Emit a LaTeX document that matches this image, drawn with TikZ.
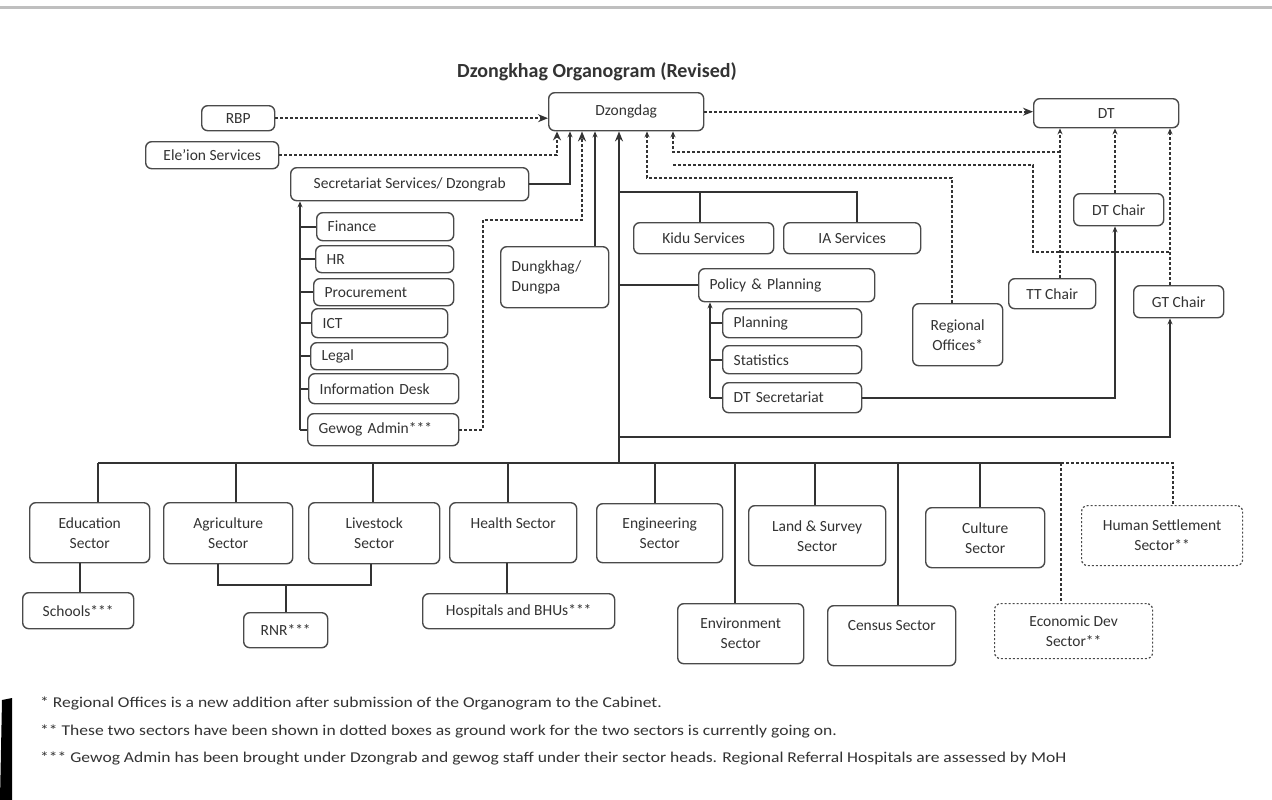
\documentclass[tikz,border=0pt]{standalone}
\usepackage{fontspec}
\setmainfont{Carlito}
\usetikzlibrary{arrows.meta}
\definecolor{ink}{HTML}{333333}
\definecolor{edgec}{HTML}{4a4a4a}
\newcommand{\wide}[1]{\scalebox{1.17}[1]{#1}}
\tikzset{
  box/.style={draw=edgec, line width=1.4pt, rounded corners=6pt, fill=white, text=ink,
    font=\fontsize{15.5}{20}\selectfont, inner sep=0pt, anchor=north west},
  cbox/.style={box, align=center},
  lbox/.style={box, align=left, inner xsep=11pt},
  dbox/.style={cbox, dash pattern=on 2pt off 2pt, line width=1.2pt},
  sl/.style={draw=ink, line width=1.6pt},
  dl/.style={draw=ink, line width=1.6pt, dash pattern=on 3pt off 2pt},
  arrbig/.style={-{Stealth[length=10pt,width=8pt]}},
  arrsm/.style={-{Stealth[length=6pt,width=5pt]}},
  arropen/.style={-{Stealth[open,length=9pt,width=8pt]}},
  foot/.style={anchor=west, text=ink, font=\fontsize{15}{18}\selectfont, inner sep=0pt}
}
\begin{document}
\begin{tikzpicture}[x=1pt, y=-1pt]
\useasboundingbox (0,0) rectangle (1272,800);
\fill[white] (0,0) rectangle (1272,800);
\draw[black!25, line width=3pt] (0,8) -- (1272,8);
\fill[black] (2,700) -- (12,698) -- (12,800) -- (0,800) -- cycle;

\node[text=ink, font=\bfseries\fontsize{20}{23}\selectfont] (title) at (597,72) {Dzongkhag Organogram (Revised)};

% top boxes
\node[cbox, minimum width=73pt, minimum height=25pt] (rbp) at (201,105) {RBP};
\node[cbox, minimum width=133pt, minimum height=27pt] (ele) at (145,141) {Ele'ion Services};
\node[cbox, minimum width=155pt, minimum height=38pt] (dz) at (548,92) {Dzongdag};
\node[cbox, minimum width=145pt, minimum height=29pt] (dt) at (1033,98) {DT};
\node[cbox, minimum width=238pt, minimum height=33pt] (sec) at (290,167) {Secretariat Services/ Dzongrab};
\node[lbox, text width=115pt, minimum height=28pt] (fin) at (316,212) {Finance};
\node[lbox, text width=116pt, minimum height=27pt] (hr) at (315,245) {HR};
\node[lbox, text width=118pt, minimum height=27pt] (proc) at (313,278) {Procurement};
\node[lbox, text width=114pt, minimum height=29pt] (ict) at (311,308) {ICT};
\node[lbox, text width=115pt, minimum height=27pt] (leg) at (310,342) {Legal};
\node[lbox, text width=128pt, minimum height=30pt] (info) at (308,373) {Information Desk};
\node[lbox, text width=129pt, minimum height=32pt] (gew) at (307,413) {Gewog Admin***};
\node[lbox, text width=86pt, minimum height=61pt] (dung) at (500,246) {Dungkhag/\\Dungpa};
\node[cbox, minimum width=140pt, minimum height=31pt] (kidu) at (633,222) {Kidu Services};
\node[cbox, minimum width=137pt, minimum height=31pt] (ia) at (783,222) {IA Services};
\node[lbox, text width=154pt, minimum height=33pt] (pp) at (698,268) {Policy \& Planning};
\node[lbox, text width=117pt, minimum height=29pt] (plan) at (722,308) {Planning};
\node[lbox, text width=117pt, minimum height=28pt] (stat) at (722,345) {Statistics};
\node[lbox, text width=117pt, minimum height=30pt] (dtsec) at (722,382) {DT Secretariat};
\node[cbox, minimum width=90pt, minimum height=62pt] (ro) at (912,303) {Regional\\Offices*};
\node[cbox, minimum width=87pt, minimum height=30pt] (tt) at (1008,278) {TT Chair};
\node[cbox, minimum width=90pt, minimum height=32pt] (dtc) at (1073,193) {DT Chair};
\node[cbox, minimum width=90pt, minimum height=32pt] (gtc) at (1133,285) {GT Chair};

% sector boxes
\node[cbox, minimum width=120pt, minimum height=60pt] (edu) at (29,502) {Education\\Sector};
\node[cbox, minimum width=129pt, minimum height=61pt] (agr) at (163,502) {Agriculture\\Sector};
\node[cbox, minimum width=131pt, minimum height=61pt] (liv) at (308,502) {Livestock\\Sector};
\node[cbox, minimum width=127pt, minimum height=60pt] (hea) at (449,502) {Health Sector\\~};
\node[cbox, minimum width=126pt, minimum height=59pt] (eng) at (596,503) {Engineering\\Sector};
\node[cbox, minimum width=126pt, minimum height=60pt] (env) at (677,603) {Environment\\Sector};
\node[cbox, minimum width=137pt, minimum height=60pt] (ls) at (748,505) {Land \& Survey\\Sector};
\node[cbox, minimum width=128pt, minimum height=60pt] (cen) at (827,605) {Census Sector\\~};
\node[cbox, minimum width=119pt, minimum height=60pt] (cul) at (925,507) {Culture\\Sector};
\node[dbox, minimum width=161pt, minimum height=60pt] (hs) at (1081,505) {Human Settlement\\Sector**};
\node[dbox, minimum width=158pt, minimum height=55pt] (eco) at (994,603) {Economic Dev\\Sector**};
\node[cbox, minimum width=111pt, minimum height=36pt] (sch) at (22,592) {Schools***};
\node[cbox, minimum width=84pt, minimum height=35pt] (rnr) at (243,612) {RNR***};
\node[cbox, minimum width=192pt, minimum height=35pt] (hos) at (422,593) {Hospitals and BHUs***};

% footnotes
\node[foot] (f1) at (40,703) {\wide{* Regional Offices is a new addition after submission of the Organogram to the Cabinet.}};
\node[foot] (f2) at (40,731) {\wide{** These two sectors have been shown in dotted boxes as ground work for the two sectors is currently going on.}};
\node[foot] (f3) at (40,758) {\wide{*** Gewog Admin has been brought under Dzongrab and gewog staff under their sector heads. Regional Referral Hospitals are assessed by MoH}};

% ---- connectors into Dzongdag
\draw[dl, arrbig] (rbp.east) -- (rbp.east -| dz.west);
\coordinate (e1) at (557,154);
\draw[dl, arropen] (ele.east) -- (ele.east -| e1) -- (e1 |- dz.south);
\coordinate (s1) at (570,183);
\draw[sl, arrsm] (sec.east) -- (sec.east -| s1) -- (s1 |- dz.south);
\coordinate (g1) at (483,220);
\coordinate (g2) at (582,220);
\draw[dl, arrbig] (gew.east) -- (gew.east -| g1) -- (g1) -- (g2) -- (g2 |- dz.south);
\coordinate (d1) at (595,246);
\draw[sl, arrsm] (d1 |- dung.north) -- (d1 |- dz.south);

% secretariat children
\coordinate (c0) at (300,200);
\draw[sl, arrsm] (c0 |- gew.west) -- (c0 |- sec.south);
\foreach \n in {fin,hr,proc,ict,leg,info,gew}
  \draw[sl] (c0 |- \n.west) -- (\n.west);

% trunk
\coordinate (t0) at (619,463);
\draw[sl, arrbig] (t0) -- (t0 |- dz.south);
\coordinate (k0) at (619,192);
\coordinate (k1) at (700,192);
\coordinate (k2) at (857,192);
\draw[sl] (k0) -- (k2) -- (k2 |- ia.north);
\draw[sl] (k1) -- (k1 |- kidu.north);
\draw[sl] (pp.west -| k0) -- (pp.west);

% planning group
\coordinate (p0) at (710,300);
\draw[sl, arrsm] (p0 |- dtsec.west) -- (p0 |- pp.south);
\foreach \n in {plan,stat,dtsec}
  \draw[sl] (p0 |- \n.west) -- (\n.west);

% DT secretariat -> DT chair
\coordinate (q1) at (1115,397);
\draw[sl, arrsm] (dtsec.east) -- (dtsec.east -| q1) -- (q1 |- dtc.south);
% GT chair
\coordinate (r1) at (1170,437);
\draw[sl, arrsm] (r1 -| k0) -- (r1) -- (r1 |- gtc.south);

% dashed right side
\draw[dl, arrbig] (dz.east) -- (dz.east -| dt.west);
\coordinate (u1) at (952,178);
\coordinate (u2) at (647,178);
\draw[dl, arrsm] (u1 |- ro.north) -- (u1) -- (u2) -- (u2 |- dz.south);
\coordinate (v1) at (1060,152);
\coordinate (v2) at (673,152);
\draw[dl, arrsm] (v1 |- tt.north) -- (v1 |- dt.south);
\draw[dl, arrsm] (v1) -- (v2) -- (v2 |- dz.south);
\coordinate (w1) at (673,165);
\coordinate (w2) at (1033,165);
\coordinate (w3) at (1033,252);
\coordinate (w4) at (1170,252);
\draw[dl] (w1) -- (w2) -- (w3) -- (w4);
\draw[dl, arrsm] (dtc.north -| q1) -- (q1 |- dt.south);
\draw[dl, arrsm] (gtc.north -| r1) -- (r1 |- dt.south);

% bus
\coordinate (bl) at (98,463);
\coordinate (bd) at (1061,463);
\coordinate (bh) at (1173,463);
\draw[sl] (bl) -- (bd);
\draw[dl] (bd) -- (bh) -- (bh |- hs.north);
\draw[dl] (bd) -- (bd |- eco.north);
\foreach \x/\n in {98/edu,236/agr,373/liv,508/hea,655/eng,735/env,815/ls,898/cen,980/cul}{
  \coordinate (drop\n) at (\x,463);
  \draw[sl] (drop\n) -- (drop\n |- \n.north);
}

% sub connectors
\coordinate (js) at (80,580);
\draw[sl] (js |- edu.south) -- (js |- sch.north);
\coordinate (ja) at (218,585);
\coordinate (jl) at (371,585);
\coordinate (jr) at (286,585);
\draw[sl] (ja |- agr.south) -- (ja) -- (jl) -- (jl |- liv.south);
\draw[sl] (jr) -- (jr |- rnr.north);
\coordinate (jh) at (507,580);
\draw[sl] (jh |- hea.south) -- (jh |- hos.north);
\end{tikzpicture}
\end{document}
